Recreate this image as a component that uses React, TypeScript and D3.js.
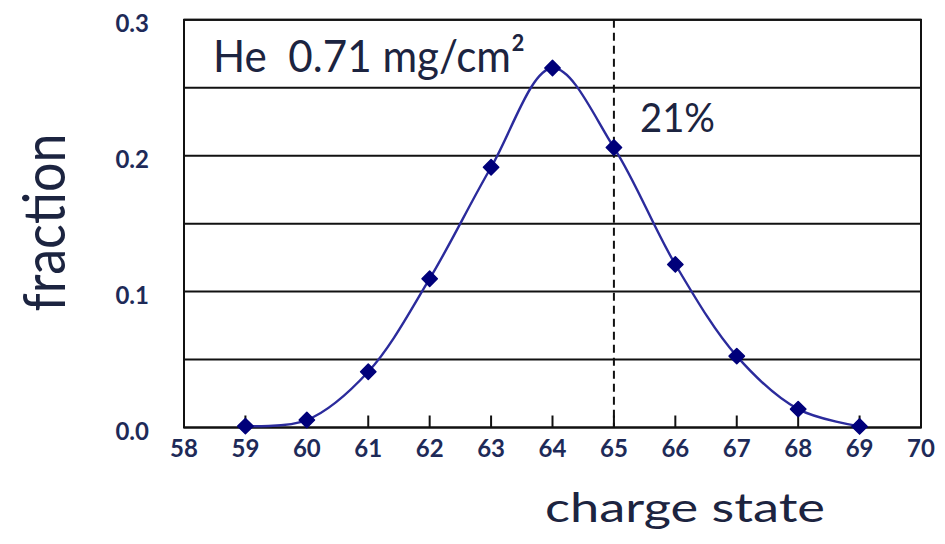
import React from "react";
import * as d3 from "d3";

// Charge-state distribution after a He stripper foil
const chargeStates = [59, 60, 61, 62, 63, 64, 65, 66, 67, 68, 69];
const fractions = [0.001, 0.0055, 0.041, 0.1095, 0.1915, 0.2645, 0.206, 0.12, 0.0525, 0.0135, 0.0008];
const xTicks = [58, 59, 60, 61, 62, 63, 64, 65, 66, 67, 68, 69, 70];
const yGrid = [0, 0.05, 0.1, 0.15, 0.2, 0.25, 0.3];
const yLabels = [0, 0.1, 0.2, 0.3];
const markerState = 65;
const markerLabel = "21%";
const foilLabel = "He  0.71 mg/cm²";

const W = 945;
const H = 544;
const FONT = "Lato, 'Open Sans', sans-serif";
const INK = "#1c2440";
const TICK_INK = "#1e2a58";
const LINE = "#2b2b9c";
const DOT = "#00007a";

export default function App() {
  const x = d3.scaleLinear().domain([58, 70]).range([184, 921]);
  const y = d3.scaleLinear().domain([0, 0.3]).range([427.5, 19.8]);

  const pts: [number, number][] = chargeStates.map((c, i) => [x(c), y(fractions[i])]);
  const path = d3.line().curve(d3.curveCatmullRom.alpha(0.5))(pts) || "";
  const diamond = d3.symbol().type(d3.symbolDiamond2).size(150)() || "";

  const x0 = x.range()[0];
  const x1 = x.range()[1];
  const yb = y.range()[0];
  const yt = y.range()[1];

  return (
    <svg
      width={W}
      height={H}
      viewBox={`0 0 ${W} ${H}`}
      style={{ position: "absolute", left: 0, top: 0, background: "#fff" }}
    >
      {/* horizontal grid */}
      {yGrid.map((v) => (
        <line key={v} x1={x0} x2={x1} y1={y(v)} y2={y(v)} stroke="#111" strokeWidth={2} />
      ))}
      {/* frame */}
      <rect x={x0} y={yt} width={x1 - x0} height={yb - yt} fill="none" stroke="#111" strokeWidth={2} />
      {/* x ticks pointing inward */}
      {xTicks.map((t) => (
        <line key={t} x1={x(t)} x2={x(t)} y1={yb} y2={yb - 12} stroke="#111" strokeWidth={2} />
      ))}
      {/* reference line */}
      <line
        x1={x(markerState)}
        x2={x(markerState)}
        y1={yt}
        y2={yb}
        stroke="#111"
        strokeWidth={2}
        strokeDasharray="8,5"
      />
      {/* curve */}
      <path d={path} fill="none" stroke={LINE} strokeWidth={2.4} />
      {pts.map(([px, py], i) => (
        <path
          key={i}
          d={diamond}
          transform={`translate(${px},${py})`}
          fill={DOT}
          stroke={DOT}
          strokeWidth={1.5}
          strokeLinejoin="round"
        />
      ))}

      {/* tick labels */}
      {xTicks.map((t) => (
        <text
          key={t}
          x={x(t)}
          y={457}
          textAnchor="middle"
          fontFamily={FONT}
          fontWeight="bold"
          fontSize={24}
          fill={TICK_INK}
        >
          {t}
        </text>
      ))}
      {yLabels.map((v) => (
        <text
          key={v}
          x={149}
          y={y(v) + 12}
          textAnchor="end"
          fontFamily={FONT}
          fontWeight="bold"
          fontSize={24}
          fill={TICK_INK}
        >
          {v.toFixed(1)}
        </text>
      ))}

      {/* annotations */}
      <text
        x={213}
        y={71.7}
        fontFamily={FONT}
        fontSize={45}
        fill={INK}
        textLength={312}
        lengthAdjust="spacingAndGlyphs"
        style={{ whiteSpace: "pre" }}
      >
        {foilLabel}
      </text>
      <text x={640} y={132} fontFamily={FONT} fontSize={40.5} fill={INK} textLength={75} lengthAdjust="spacingAndGlyphs">
        {markerLabel}
      </text>

      {/* axis titles */}
      <text x={545} y={522} fontFamily={FONT} fontSize={41} fill={INK} textLength={280} lengthAdjust="spacingAndGlyphs">
        charge state
      </text>
      <text
        transform="translate(65,222.5) rotate(-90)"
        textAnchor="middle"
        fontFamily={FONT}
        fontSize={58}
        fill={INK}
        textLength={178}
        lengthAdjust="spacingAndGlyphs"
      >
        fraction
      </text>
    </svg>
  );
}
